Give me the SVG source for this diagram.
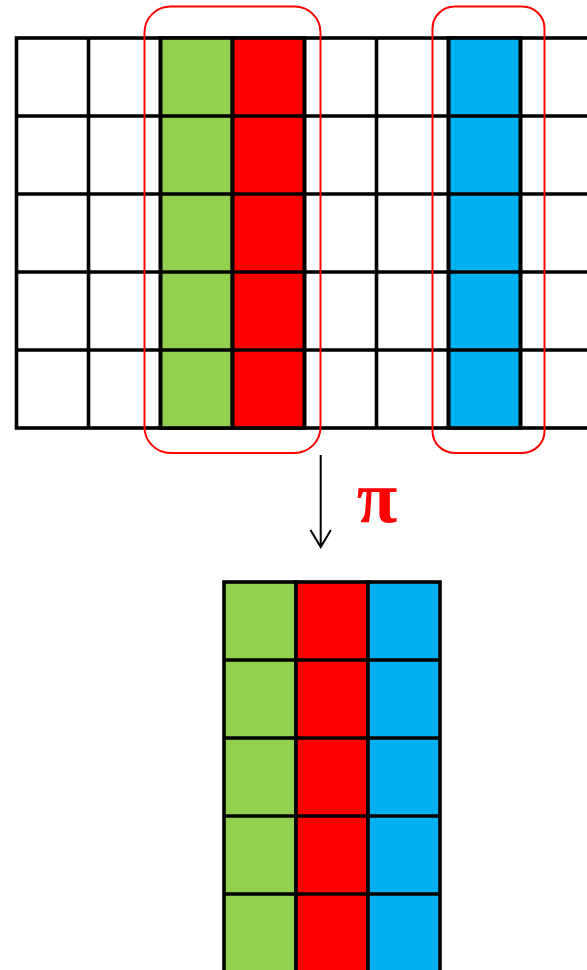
<svg xmlns="http://www.w3.org/2000/svg" width="587" height="970" viewBox="0 0 587 970">
<style>
.cell{stroke:#000;stroke-width:3.6}
.w{fill:#fff}.g{fill:#92D050}.r{fill:#FF0000}.b{fill:#00B0F0}
.sel{fill:none;stroke:#FF0000;stroke-width:2}
.arr{stroke:#000;stroke-width:2;fill:none}
</style>
<g id="top-grid">
<rect class="cell w" x="16.5" y="38" width="576" height="390"/>
<g id="col-green"><rect class="cell g" x="160.5" y="38" width="72" height="390"/></g>
<g id="col-red"><rect class="cell r" x="232.5" y="38" width="72" height="390"/></g>
<g id="col-blue"><rect class="cell b" x="448.5" y="38" width="72" height="390"/></g>
<path class="cell" fill="none" d="M88.5 38V428M160.5 38V428M232.5 38V428M304.5 38V428M376.5 38V428M448.5 38V428M520.5 38V428M16.5 116H592M16.5 194H592M16.5 272H592M16.5 350H592"/>
</g>
<g id="sel-1"><rect class="sel" x="144.5" y="6.5" width="176" height="446.5" rx="26"/></g>
<g id="sel-2"><rect class="sel" x="432.5" y="6.5" width="112" height="446.5" rx="22"/></g>
<g id="connectors">
<path class="arr" d="M320.7 455V547M310.5 530L320.7 547L330.9 530"/>
</g>
<g id="label-pi"><text x="377" y="522" font-family="Liberation Serif, serif" font-size="74" font-weight="bold" fill="#FF0000" text-anchor="middle">π</text></g>
<g id="bottom-grid">
<rect class="cell g" x="224" y="582" width="72" height="400"/>
<rect class="cell r" x="296" y="582" width="72" height="400"/>
<rect class="cell b" x="368" y="582" width="72" height="400"/>
<path class="cell" fill="none" d="M224 660H440M224 738H440M224 816H440M224 894H440"/>
</g>
</svg>
